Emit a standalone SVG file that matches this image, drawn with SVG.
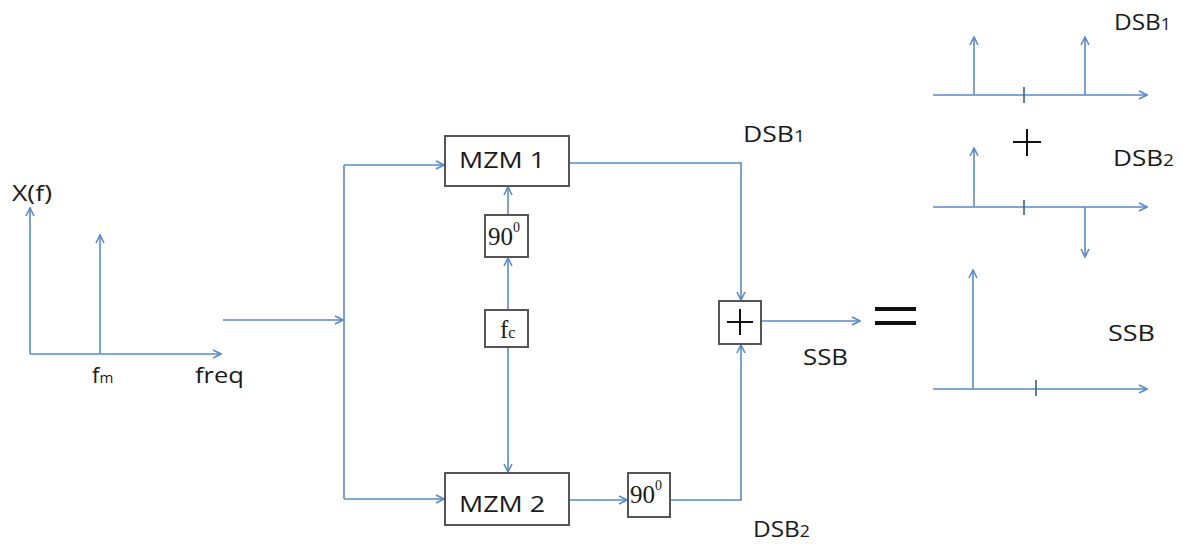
<svg xmlns="http://www.w3.org/2000/svg" width="1188" height="544" viewBox="0 0 1188 544">
<style>
.ln{fill:none;stroke:#5a8ac6;stroke-width:1.6}
.tk{fill:none;stroke:#3d5f86;stroke-width:1.6}
.bx{fill:#fff;stroke:#555;stroke-width:2}
.bk{fill:none;stroke:#111;stroke-width:2}
.t{font-family:"Open Sans","Liberation Sans",sans-serif;font-size:22px;fill:#1a1a1a}
.s{font-family:"Liberation Serif","Times New Roman",serif;font-size:25px;fill:#1a1a1a}
</style>
<defs>
<marker id="ah" viewBox="0 0 10 10" refX="9" refY="5" markerWidth="10" markerHeight="10" markerUnits="userSpaceOnUse" orient="auto">
<path d="M1,1 L9,5 L1,9" fill="none" stroke="#5a8ac6" stroke-width="1.6"/>
</marker>
</defs>
<rect width="1188" height="544" fill="#fff"/>

<g id="input-spectrum">
<path class="ln" d="M30,354 V208" marker-end="url(#ah)"/>
<path class="ln" d="M30,354 H221" marker-end="url(#ah)"/>
<path class="ln" d="M100,354 V235" marker-end="url(#ah)"/>
<text class="t" x="12" y="201" textLength="40" lengthAdjust="spacingAndGlyphs">X(f)</text>
<text class="t" x="92" y="383">f<tspan font-size="15">m</tspan></text>
<text class="t" x="195" y="383" textLength="49" lengthAdjust="spacingAndGlyphs">freq</text>
</g>

<g id="connectors">
<path class="ln" d="M223,320 H343" marker-end="url(#ah)"/>
<path class="ln" d="M344,165 V499"/>
<path class="ln" d="M344,165 H444" marker-end="url(#ah)"/>
<path class="ln" d="M344,499 H444" marker-end="url(#ah)"/>
<path class="ln" d="M508,310 V258" marker-end="url(#ah)"/>
<path class="ln" d="M508,215 V187" marker-end="url(#ah)"/>
<path class="ln" d="M508,347 V472" marker-end="url(#ah)"/>
<path class="ln" d="M569,500 H627" marker-end="url(#ah)"/>
<path class="ln" d="M670,500 H741 V345" marker-end="url(#ah)"/>
<path class="ln" d="M569,163 H741 V300" marker-end="url(#ah)"/>
<path class="ln" d="M761,321 H860" marker-end="url(#ah)"/>
</g>

<g id="mzm1">
<rect class="bx" x="445" y="136" width="124" height="50"/>
<text class="t" x="459" y="168" textLength="86" lengthAdjust="spacingAndGlyphs">MZM 1</text>
</g>
<g id="phase1">
<rect class="bx" x="485" y="215" width="43" height="42"/>
<text class="s" x="488" y="245">90<tspan font-size="14" dy="-13">0</tspan></text>
</g>
<g id="fc">
<rect class="bx" x="485" y="310" width="43" height="37"/>
<text class="s" x="500" y="338">f<tspan font-size="16">c</tspan></text>
</g>
<g id="mzm2">
<rect class="bx" x="445" y="473" width="124" height="52"/>
<text class="t" x="459" y="512" textLength="86" lengthAdjust="spacingAndGlyphs">MZM 2</text>
</g>
<g id="phase2">
<rect class="bx" x="628" y="473" width="42" height="44"/>
<text class="s" x="630" y="503">90<tspan font-size="14" dy="-13">0</tspan></text>
</g>
<g id="adder">
<rect class="bx" x="719" y="301" width="42" height="43"/>
<path class="bk" d="M727,322 H753 M740,309 V335"/>
</g>

<g id="labels">
<text class="t" x="743" y="142" textLength="62" lengthAdjust="spacingAndGlyphs">DSB<tspan font-size="16">1</tspan></text>
<text class="t" x="803" y="365" textLength="45" lengthAdjust="spacingAndGlyphs">SSB</text>
<text class="t" x="753" y="537" textLength="57" lengthAdjust="spacingAndGlyphs">DSB<tspan font-size="16">2</tspan></text>
</g>

<g id="equals">
<path d="M875,309 H916 M875,323 H916" stroke="#111" stroke-width="4"/>
</g>

<g id="dsb1-spectrum">
<path class="ln" d="M933,95 H1147" marker-end="url(#ah)"/>
<path class="ln" d="M974,95 V37" marker-end="url(#ah)"/>
<path class="ln" d="M1085,95 V37" marker-end="url(#ah)"/>
<path class="tk" d="M1024,87 V103"/>
<text class="t" x="1114" y="30" textLength="57" lengthAdjust="spacingAndGlyphs">DSB<tspan font-size="16">1</tspan></text>
</g>
<g id="plus-sign">
<path class="bk" d="M1013,142 H1041 M1027,129 V156"/>
</g>
<g id="dsb2-spectrum">
<path class="ln" d="M933,207 H1147" marker-end="url(#ah)"/>
<path class="ln" d="M974,207 V148" marker-end="url(#ah)"/>
<path class="ln" d="M1085,207 V257" marker-end="url(#ah)"/>
<path class="tk" d="M1024,200 V215"/>
<text class="t" x="1113" y="166" textLength="61" lengthAdjust="spacingAndGlyphs">DSB<tspan font-size="16">2</tspan></text>
</g>
<g id="ssb-spectrum">
<path class="ln" d="M933,389 H1147" marker-end="url(#ah)"/>
<path class="ln" d="M973,389 V270" marker-end="url(#ah)"/>
<path class="tk" d="M1036,380 V396"/>
<text class="t" x="1108" y="341" textLength="47" lengthAdjust="spacingAndGlyphs">SSB</text>
</g>
</svg>
